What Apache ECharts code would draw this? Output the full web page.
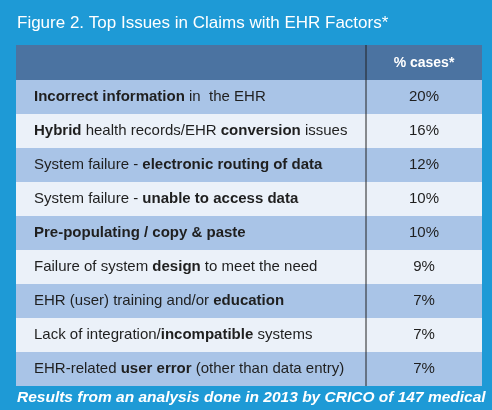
<!DOCTYPE html>
<html>
<head>
<meta charset="utf-8">
<script src="https://cdn.jsdelivr.net/npm/echarts@6/dist/echarts.min.js"></script>
<style>
html,body{margin:0;padding:0;background:#1e9ad6;}
#chart{width:492px;height:410px;}
</style>
</head>
<body>
<div id="chart"></div>
<script>
// rows of the table, {b|...} marks the bold part
const issues = [
	'{b|Incorrect information} in  the EHR',
	'{b|Hybrid} health records/EHR {b|conversion} issues',
	'System failure - {b|electronic routing of data}',
	'System failure - {b|unable to access data}',
	'{b|Pre-populating / copy & paste}',
	'Failure of system {b|design} to meet the need',
	'EHR (user) training and/or {b|education}',
	'Lack of integration/{b|incompatible} systems',
	'EHR-related {b|user error} (other than data entry)'
];
const percents = [20, 16, 12, 10, 10, 9, 7, 7, 7];
const header = '% cases*';

const font = '"Liberation Sans", Arial, sans-serif';
const divX = 366;

var myChart = echarts.init(document.getElementById('chart'));

function renderRow(params, api) {
	var i = api.value(0);
	var c = api.coord([0, i]);
	var h = api.size([0, 1])[1];
	var g = params.coordSys;
	var top = c[1] - h / 2;
	return {
		type: 'group',
		children: [
			{
				type: 'rect',
				shape: { x: g.x, y: top, width: g.width, height: h },
				style: { fill: i % 2 == 0 ? '#a9c4e7' : '#ebf1f9' }
			},
			{
				type: 'text',
				x: g.x + 18, y: c[1],
				style: {
					text: issues[i],
					fill: '#1f1f1f', font: '15px ' + font,
					verticalAlign: 'middle',
					rich: {
						b: { fontWeight: 'bold', fontSize: 15, fontFamily: font, fill: '#1f1f1f' }
					}
				}
			},
			{
				type: 'text',
				x: (divX + g.x + g.width) / 2, y: c[1],
				style: {
					text: api.value(1) + '%',
					fill: '#1f1f1f', font: '15px ' + font,
					align: 'center', verticalAlign: 'middle'
				}
			}
		]
	};
}

var option = {
	backgroundColor: '#1e9ad6',
	animation: false,
	grid: { left: 16, right: 10, top: 80, bottom: 24 },
	xAxis: { type: 'value', min: 0, max: 1, show: false },
	yAxis: {
		type: 'category', inverse: true, show: false,
		data: issues.map(function(d, i){ return i; })
	},
	series: [{
		type: 'custom',
		renderItem: renderRow,
		data: percents.map(function(p, i){ return [i, p]; }),
		encode: { y: 0 }
	}],
	graphic: [
		{
			type: 'text', left: 17, top: 15,
			style: { text: 'Figure 2. Top Issues in Claims with EHR Factors*', fill: '#fff', font: '17px ' + font }
		},
		{
			type: 'rect', shape: { x: 16, y: 45, width: 466, height: 35 },
			style: { fill: '#4b73a1' }
		},
		{
			type: 'text', x: (divX + 482) / 2, y: 63,
			style: { text: header, fill: '#fff', font: 'bold 14px ' + font, align: 'center', verticalAlign: 'middle' }
		},
		{
			type: 'line', z: 100, shape: { x1: divX, y1: 45, x2: divX, y2: 386 },
			style: { stroke: '#222', lineWidth: 1 }
		},
		{
			type: 'text', left: 17, top: 390,
			style: { text: 'Results from an analysis done in 2013 by CRICO of 147 medical', fill: '#fff', font: 'italic bold 15.5px ' + font }
		}
	]
};
myChart.setOption(option);
</script>
</body>
</html>
